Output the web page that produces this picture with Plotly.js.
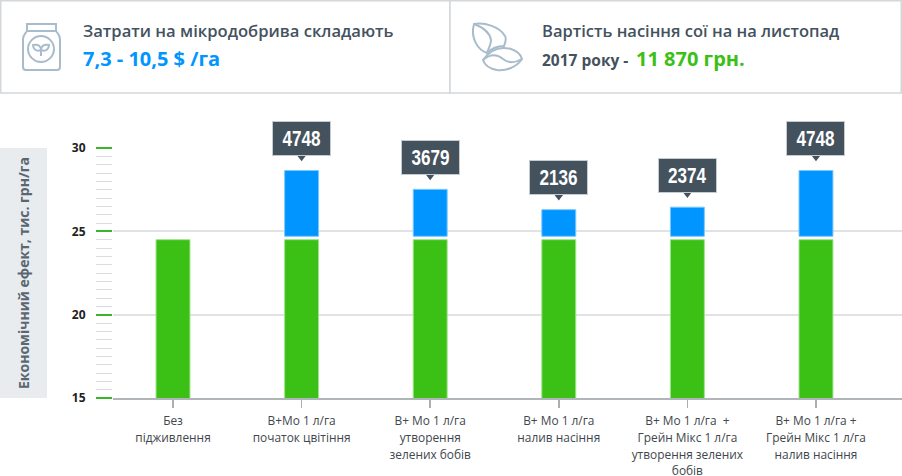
<!DOCTYPE html>
<html><head><meta charset="utf-8">
<script src="https://cdn.plot.ly/plotly-3.0.1.min.js"></script>
<style>html,body{margin:0;padding:0;background:#fff}#c{width:902px;height:476px}</style>
</head><body><div id="c"></div>
<script>
const categories = ["Без<br>підживлення","B+Mo 1 л/га<br>початок цвітіння","B+ Mo 1 л/га<br>утворення<br>зелених бобів","B+ Mo 1 л/га<br>налив насіння","B+ Mo 1 л/га  +<br>Грейн Мікс 1 л/га<br>утворення зелених<br>бобів","B+ Mo 1 л/га +<br>Грейн Мікс 1 л/га<br>налив насіння"];
const baseValues = [24.5,24.5,24.5,24.5,24.5,24.5];
const blueStart = [null,24.7,24.7,24.7,24.7,24.7];
const blueValues = [null,3.95,2.82,1.6,1.75,3.95];
const labels = [null,"4748","3679","2136","2374","4748"];
const yTicks = [15,20,25,30];

const W=902,H=476,L=113,T=148,B=398;
const px=x=>(x-L)/(W-L), py=y=>(B-y)/(B-T);
const mapPath=s=>s.replace(/(-?[\d.]+),(-?[\d.]+)/g,(m,a,b)=>px(+a).toFixed(5)+','+py(+b).toFixed(5));
const ink='#44525e', icon='#a8bccb', op='Open Sans, sans-serif';
const rect=(x0,y0,x1,y1,fill,line,lw)=>({type:'rect',xref:'paper',yref:'paper',x0:px(x0),x1:px(x1),y0:py(y1),y1:py(y0),fillcolor:fill,line:{color:line||fill,width:lw||0},layer:'below'});
const stroke=d=>({type:'path',xref:'paper',yref:'paper',path:mapPath(d),line:{color:icon,width:2},layer:'above'});
const txt=(x,y,text,size,color,weight,extra)=>Object.assign({xref:'paper',yref:'paper',x:px(x),y:py(y),text,showarrow:false,xanchor:'left',yanchor:'middle',borderpad:0,borderwidth:0,font:{family:op,size,color,weight}},extra||{});

const shapes=[
 rect(0.75,0.75,450,93,'#fff','#d3d8dc',1.5),
 rect(450,0.75,901.25,93,'#fff','#d3d8dc',1.5),
 rect(0,148,47,398,'#e8ecef'),
 // jar icon
 stroke('M27,24 L56,24 L56,31 L27,31 Z'),
 stroke('M27,31 C25,34 23,35 23,39 L23,67 C23,69 24,70 26,70 L57,70 C59,70 60,69 60,67 L60,39 C60,35 58,34 56,31'),
 stroke('M41,36 C48,36 54,42 54,49 C54,56 48,62 41,62 C34,62 28,56 28,49 C28,42 34,36 41,36 Z'),
 stroke('M41,56 L41,50 C41,46 38,44 33,45 C33,49 36,52 41,50 C46,52 49,49 49,45 C44,44 41,46 41,50'),
 // bean icon
 stroke('M474,24 C485,22 500,27 505,36 C507,39 505,43 504,46 C497,46 491,49 487,53 C478,50 470,38 474,24 Z'),
 stroke('M474,24 C485,28 490,34 491,40 C491,44 489,48 487,53'),
 stroke('M483,60 C490,50 500,46 511,49 C517,51 521,55 522,59 C516,68 505,71 497,70 C491,69 485,66 483,60 Z'),
 stroke('M483,60 C490,54 497,54 503,59 C508,63 515,63 522,59')
];

const annotations=[
 txt(83,30,'Затрати на мікродобрива складають',16.6,ink,600),
 txt(83,59,'7,3 - 10,5 $ /га',20,'#0095ff',700),
 txt(542,30,'Вартість насіння сої на на листопад',16.5,ink,600),
 txt(542,60,'2017 року - ',15.5,ink,700),
 txt(635.5,59,'11 870 грн.',20,'#3bc016',700),
 txt(23,273,'Економічний ефект, тис. грн/га',14,'#5a6772',700,{textangle:-90,xanchor:'center'})
];
labels.forEach((t,i)=>{ if(!t) return;
 annotations.push({x:i,y:blueStart[i]+blueValues[i],xref:'x',yref:'y',text:t,showarrow:false,xanchor:'center',yanchor:'bottom',yshift:14.5,
  bgcolor:ink,bordercolor:'#c4ccd2',borderwidth:1,borderpad:0,width:57,height:33,valign:'middle',align:'center',
  font:{family:'Liberation Sans, sans-serif',size:22,color:'#fff',weight:700}});
});

const calloutLift = 0.82;
const data=[
 {type:'bar',x:[0,1,2,3,4,5],y:baseValues,width:0.264,marker:{color:'#3bc016',line:{color:'#9fe38a',width:1}},hoverinfo:'skip'},
 {type:'bar',x:[0,1,2,3,4,5],y:blueValues,base:blueStart,width:0.264,marker:{color:'#0095ff',line:{color:'#7cc8ff',width:1}},hoverinfo:'skip'},
 {type:'scatter',mode:'markers',x:[0,1,2,3,4,5],y:blueValues.map((v,i)=>v==null?null:blueStart[i]+v+calloutLift),marker:{symbol:'triangle-down',size:9,color:ink,line:{width:0}},hoverinfo:'skip',cliponaxis:false}
];
const layout={
 width:W,height:H,margin:{l:L,r:0,t:T,b:H-B,pad:0},paper_bgcolor:'#fff',plot_bgcolor:'#fff',
 showlegend:false,barmode:'overlay',shapes,annotations,
 font:{family:op},
 xaxis:{type:'linear',range:[-0.4666,5.669],tickvals:[0,1,2,3,4,5],ticktext:categories,tickangle:0,ticks:'outside',ticklen:8,tickwidth:1.5,tickcolor:'#a9afb4',showgrid:false,zeroline:false,showline:true,linecolor:'#b0b5ba',linewidth:2,tickfont:{family:op,size:11.9,color:'#3f474d'},ticklabelstandoff:3},
 yaxis:{range:[15,30],tickvals:yTicks,ticks:'outside',ticklen:16,tickwidth:2,tickcolor:'#3bb52a',showgrid:true,gridcolor:'#dfe3e6',gridwidth:2,zeroline:false,showline:false,tickfont:{family:op,size:12,color:'#222',weight:700},ticklabelstandoff:8,
  minor:{dtick:0.5,ticks:'outside',ticklen:16,tickwidth:1,tickcolor:'#d9dddf',showgrid:false}}
};
Plotly.newPlot('c',data,layout,{staticPlot:true,displayModeBar:false}).then(gd=>{
 // condensed lettering of the callouts and the wider line pitch of the category labels
 gd.querySelectorAll('.annotation-text').forEach(t=>{
  if(/^\d{4}$/.test(t.textContent)){t.setAttribute('textLength','38');t.setAttribute('lengthAdjust','spacingAndGlyphs');}
 });
 gd.querySelectorAll('.xtick text').forEach(t=>{
  t.querySelectorAll('tspan.line').forEach((s,i)=>s.setAttribute('dy',i*16.7));
 });
});
</script></body></html>
